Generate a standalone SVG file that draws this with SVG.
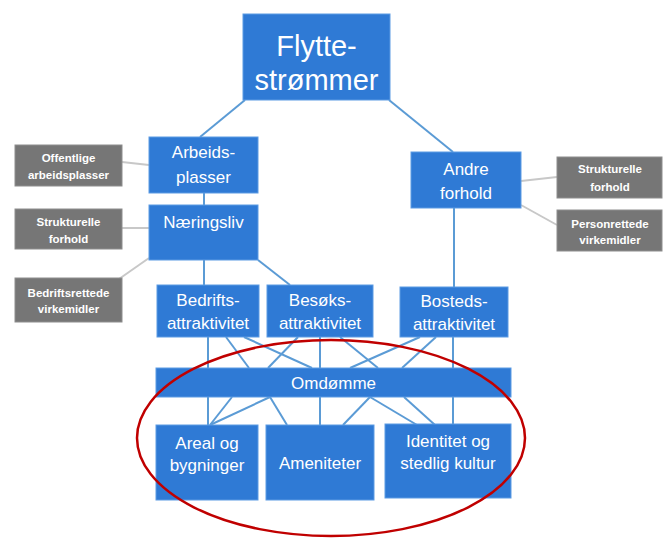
<svg xmlns="http://www.w3.org/2000/svg" width="665" height="538" viewBox="0 0 665 538">
<style>
.b{fill:#2F7AD5;stroke:#5C9BE3;stroke-width:1}
.g{fill:#767676;stroke:#8E8E8E;stroke-width:1}
.t{font-family:"Liberation Sans",Arial,sans-serif;fill:#FFFFFF;text-anchor:middle}
.m{font-size:17px}
.s{font-size:11.5px;font-weight:bold}
.bl{stroke:#5B9BD5;stroke-width:2;fill:none}
.gl{stroke:#C8C8C8;stroke-width:2;fill:none}
</style>
<rect width="665" height="538" fill="#FFFFFF"/>
<g id="connectors">
<line class="bl" x1="245" y1="100" x2="200" y2="137"/>
<line class="bl" x1="389" y1="100" x2="453" y2="152"/>
<line class="bl" x1="204" y1="193" x2="204" y2="205"/>
<line class="bl" x1="204" y1="260" x2="204" y2="285"/>
<line class="bl" x1="258" y1="260" x2="290" y2="285"/>
<line class="bl" x1="454" y1="208" x2="454" y2="287"/>
<line class="gl" x1="122" y1="162" x2="149" y2="165"/>
<line class="gl" x1="122" y1="228" x2="149" y2="228"/>
<line class="gl" x1="119" y1="279" x2="149" y2="258"/>
<line class="gl" x1="521" y1="181" x2="557" y2="177"/>
<line class="gl" x1="521" y1="205" x2="557" y2="225"/>
<line class="bl" x1="208" y1="337" x2="208" y2="368"/>
<line class="bl" x1="226" y1="337" x2="249" y2="368"/>
<line class="bl" x1="244" y1="337" x2="312" y2="368"/>
<line class="bl" x1="298" y1="337" x2="268" y2="368"/>
<line class="bl" x1="320" y1="337" x2="320" y2="368"/>
<line class="bl" x1="340" y1="337" x2="378" y2="368"/>
<line class="bl" x1="420" y1="337" x2="350" y2="368"/>
<line class="bl" x1="436" y1="337" x2="402" y2="368"/>
<line class="bl" x1="453" y1="337" x2="453" y2="368"/>
<line class="bl" x1="208" y1="397" x2="208" y2="425"/>
<line class="bl" x1="232" y1="397" x2="210" y2="425"/>
<line class="bl" x1="270" y1="397" x2="210" y2="425"/>
<line class="bl" x1="270" y1="397" x2="287" y2="425"/>
<line class="bl" x1="320" y1="397" x2="320" y2="425"/>
<line class="bl" x1="370" y1="397" x2="343" y2="425"/>
<line class="bl" x1="370" y1="397" x2="417" y2="425"/>
<line class="bl" x1="404" y1="397" x2="435" y2="425"/>
<line class="bl" x1="453" y1="397" x2="453" y2="425"/>
</g>
<g id="flytte"><rect class="b" x="243" y="14" width="147" height="86"/>
<text class="t" x="316.5" y="56" font-size="29">Flytte-</text><text class="t" x="316.5" y="90" font-size="29">strømmer</text></g>
<g id="arbeids"><rect class="b" x="149" y="137" width="109" height="56"/>
<text class="t m" x="203.5" y="158">Arbeids-</text><text class="t m" x="203.5" y="183">plasser</text></g>
<g id="naeringsliv"><rect class="b" x="149" y="205" width="109" height="55"/>
<text class="t m" x="203.5" y="228">Næringsliv</text></g>
<g id="andre"><rect class="b" x="411" y="152" width="110" height="56"/>
<text class="t m" x="466" y="175">Andre</text><text class="t m" x="466" y="199">forhold</text></g>
<g id="offentlige"><rect class="g" x="15" y="145" width="107" height="41"/>
<text class="t s" x="68.5" y="162">Offentlige</text><text class="t s" x="68.5" y="179">arbeidsplasser</text></g>
<g id="strukturelle1"><rect class="g" x="15" y="209" width="107" height="40"/>
<text class="t s" x="68.5" y="226">Strukturelle</text><text class="t s" x="68.5" y="243">forhold</text></g>
<g id="bedriftsrettede"><rect class="g" x="15" y="278" width="107" height="44"/>
<text class="t s" x="68.5" y="297">Bedriftsrettede</text><text class="t s" x="68.5" y="313">virkemidler</text></g>
<g id="strukturelle2"><rect class="g" x="557" y="157" width="105" height="41"/>
<text class="t s" x="610" y="173">Strukturelle</text><text class="t s" x="610" y="191">forhold</text></g>
<g id="personrettede"><rect class="g" x="557" y="210" width="105" height="41"/>
<text class="t s" x="610" y="228">Personrettede</text><text class="t s" x="610" y="244">virkemidler</text></g>
<g id="bedrifts"><rect class="b" x="157" y="285" width="102" height="52"/>
<text class="t m" x="208" y="306">Bedrifts-</text><text class="t m" x="208" y="329">attraktivitet</text></g>
<g id="besoks"><rect class="b" x="267" y="285" width="106" height="52"/>
<text class="t m" x="320" y="306">Besøks-</text><text class="t m" x="320" y="329">attraktivitet</text></g>
<g id="bosteds"><rect class="b" x="400" y="287" width="108" height="50"/>
<text class="t m" x="454" y="307">Bosteds-</text><text class="t m" x="454" y="330">attraktivitet</text></g>
<g id="omdomme"><rect class="b" x="156" y="368" width="355" height="29"/>
<text class="t m" x="333.5" y="389">Omdømme</text></g>
<g id="areal"><rect class="b" x="156" y="425" width="102" height="75"/>
<text class="t m" x="207" y="449">Areal og</text><text class="t m" x="207" y="471">bygninger</text></g>
<g id="ameniteter"><rect class="b" x="266" y="425" width="108" height="75"/>
<text class="t m" x="320" y="469">Ameniteter</text></g>
<g id="identitet"><rect class="b" x="385" y="424" width="126" height="74"/>
<text class="t m" x="448" y="447">Identitet og</text><text class="t m" x="448" y="469">stedlig kultur</text></g>
<ellipse cx="331" cy="438" rx="194" ry="98" fill="none" stroke="#C00000" stroke-width="2.5"/>
</svg>
